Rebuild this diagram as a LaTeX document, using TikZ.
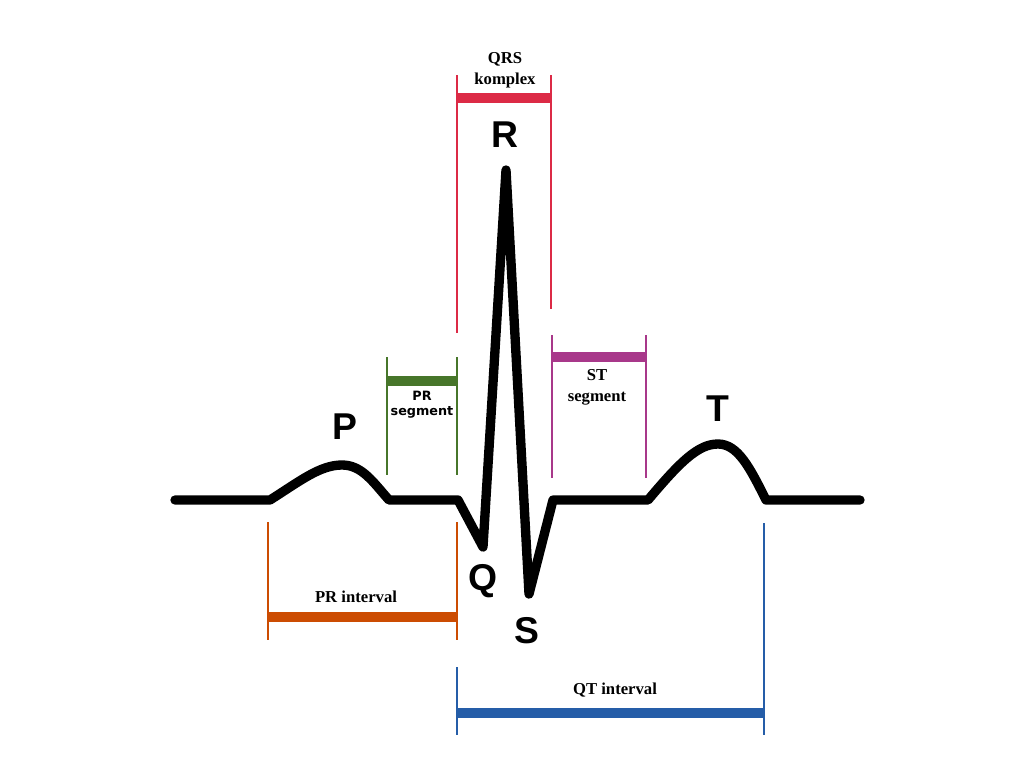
\documentclass[tikz,border=0pt]{standalone}
\usepackage{fontspec}
\setmainfont{Liberation Serif}
\setsansfont{Liberation Sans}
\newfontfamily\dejavu{DejaVu Sans}
\definecolor{qrsred}{HTML}{DC2A46}
\definecolor{prgreen}{HTML}{47762A}
\definecolor{stpurple}{HTML}{A8388A}
\definecolor{prorange}{HTML}{CC4C02}
\definecolor{qtblue}{HTML}{255DA8}
\tikzset{
  wave/.style={line width=7pt, line cap=round, line join=round, black},
  tick/.style={line width=1.1pt},
  bar/.style={line width=7.5pt},
  wavelabel/.style={font=\sffamily\bfseries\fontsize{28}{28}\selectfont, inner sep=0pt},
  serlabel/.style={font=\rmfamily\bfseries\fontsize{12.5}{16}\selectfont, align=center, inner sep=0pt},
  sanslabel/.style={font=\dejavu\bfseries\fontsize{9.6}{11}\selectfont, align=center, inner sep=0pt}
}
\begin{document}
\begin{tikzpicture}[x=0.75pt,y=-0.75pt]
\useasboundingbox (0,0) rectangle (1024,768);
% waveform coordinates
\coordinate (w0) at (175,500);
\coordinate (pstart) at (270,500);
\coordinate (ppeak) at (342,465);
\coordinate (pend) at (389,500);
\coordinate (qstart) at (458,500);
\coordinate (q) at (483,547);
\coordinate (r) at (506,170);
\coordinate (s) at (529,594);
\coordinate (send) at (553,500);
\coordinate (tstart) at (648,500);
\coordinate (tpeak) at (718,444);
\coordinate (tend) at (766,500);
\coordinate (w1) at (860,500);
\draw[wave] (w0) -- (pstart)
  .. controls (300,481) and (320,465) .. (ppeak)
  .. controls (362,465) and (373,482) .. (pend)
  -- (qstart) -- (q) -- (r) -- (s) -- (send) -- (tstart)
  .. controls (680,462) and (698,444) .. (tpeak)
  .. controls (738,444) and (750,468) .. (tend)
  -- (w1);
% wave labels
\node[wavelabel] (lp) at (345,427) {P};
\node[wavelabel] (lr) at (505,135) {R};
\node[wavelabel] (lq) at (483,581) {Q};
\node[wavelabel] (ls) at (527,631) {S};
\node[wavelabel] (lt) at (718,409) {T};
% QRS komplex
\coordinate (qrsLt) at (457,75);
\coordinate (qrsLb) at (457,333);
\coordinate (qrsRt) at (551,75);
\coordinate (qrsRb) at (551,309);
\coordinate (qrsBl) at (457,98);
\coordinate (qrsBr) at (551,98);
\draw[tick, qrsred] (qrsLt) -- (qrsLb);
\draw[tick, qrsred] (qrsRt) -- (qrsRb);
\draw[bar, qrsred] (qrsBl) -- (qrsBr);
\node[serlabel] (lqrs) at (505,70) {QRS\\komplex};
% PR segment
\coordinate (prsLt) at (387,357);
\coordinate (prsLb) at (387,475);
\coordinate (prsRt) at (457,357);
\coordinate (prsRb) at (457,475);
\coordinate (prsBl) at (387,381);
\coordinate (prsBr) at (457,381);
\draw[tick, prgreen] (prsLt) -- (prsLb);
\draw[tick, prgreen] (prsRt) -- (prsRb);
\draw[bar, prgreen] (prsBl) -- (prsBr);
\node[sanslabel] (lprs) at (422,405) {PR\\segment};
% ST segment
\coordinate (stLt) at (552,335);
\coordinate (stLb) at (552,478);
\coordinate (stRt) at (646,335);
\coordinate (stRb) at (646,478);
\coordinate (stBl) at (552,357);
\coordinate (stBr) at (646,357);
\draw[tick, stpurple] (stLt) -- (stLb);
\draw[tick, stpurple] (stRt) -- (stRb);
\draw[bar, stpurple] (stBl) -- (stBr);
\node[serlabel] (lst) at (597,387) {ST\\segment};
% PR interval
\coordinate (priLt) at (268,522);
\coordinate (priLb) at (268,640);
\coordinate (priRt) at (457,522);
\coordinate (priRb) at (457,640);
\coordinate (priBl) at (268,617);
\coordinate (priBr) at (457,617);
\draw[tick, prorange] (priLt) -- (priLb);
\draw[tick, prorange] (priRt) -- (priRb);
\draw[bar, prorange] (priBl) -- (priBr);
\node[serlabel] (lpri) at (356,597) {PR interval};
% QT interval
\coordinate (qtLt) at (457,667);
\coordinate (qtLb) at (457,735);
\coordinate (qtRt) at (764,523);
\coordinate (qtRb) at (764,735);
\coordinate (qtBl) at (457,713);
\coordinate (qtBr) at (764,713);
\draw[tick, qtblue] (qtLt) -- (qtLb);
\draw[tick, qtblue] (qtRt) -- (qtRb);
\draw[bar, qtblue] (qtBl) -- (qtBr);
\node[serlabel] (lqt) at (615,690) {QT interval};
\end{tikzpicture}
\end{document}
